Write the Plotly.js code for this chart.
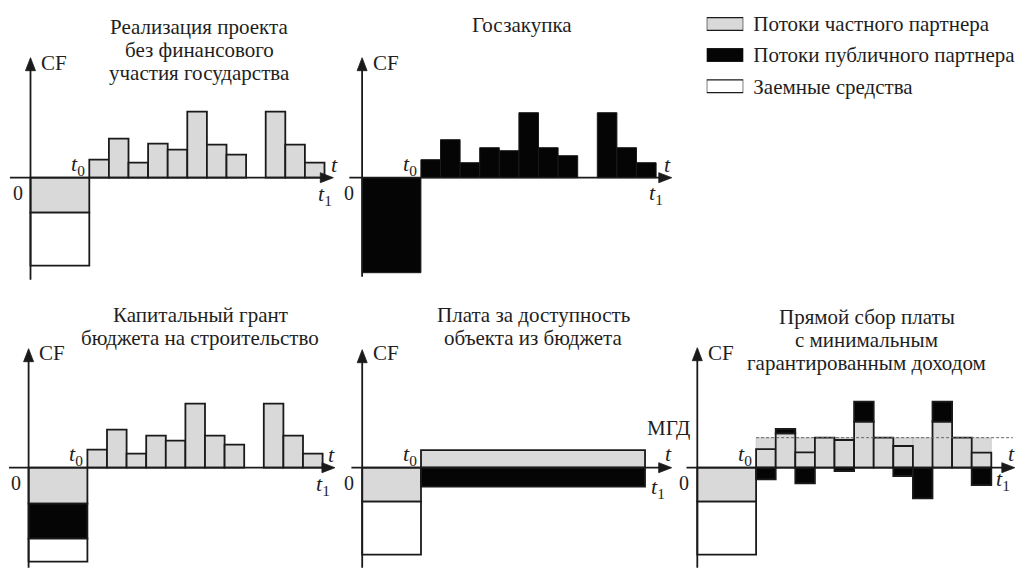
<!DOCTYPE html>
<html><head><meta charset="utf-8">
<script src="https://cdn.plot.ly/plotly-3.0.1.min.js"></script>
<style>html,body{margin:0;padding:0;background:#fff}#chart{width:1023px;height:572px}</style>
</head><body><div id="chart"></div>
<script>
// ---------- DATA ----------
const slots = [3.5,4.5,5.5,6.5,7.5,8.5,9.5,10.5,11.5,12.5,13.5,14.5];   // operating periods (t0..t1)
const constructionMid = 1.5;        // construction period 0..t0
const constructionLen = 3;
// Panel 1: project without state participation
const p1Private = [1.8,3.9,1.5,3.4,2.8,6.6,3.3,2.3,null,6.6,3.3,1.5];
const p1Equity = [-3.5];
const p1Loan = [-5.3];
// Panel 2: state procurement
const p2Public = [1.8,3.8,1.5,3.0,2.7,6.5,3.0,2.2,null,6.5,3.0,1.5];
const p2Invest = [-9.5];
// Panel 3: capital grant
const p4Private = [1.8,3.8,1.4,3.2,2.7,6.4,3.2,2.3,null,6.4,3.2,1.4];
const p4Equity = [-3.6];
const p4Grant = [-3.5];
const p4Loan = [-2.3];
// Panel 4: availability payment
const p5Start = 3, p5End = 14.43;
const p5Private = [1.75];
const p5Public = [-1.9];
const p5Equity = [-3.4];
const p5Loan = [-5.3];
// Panel 5: direct fee collection with minimum guaranteed revenue
const p6MGD = 3.0;
const p6Private = [1.85,3.44,1.53,3.0,2.77,4.6,3.0,2.17,null,4.6,3.0,1.5];
const p6PublicTop = [null,0.43,null,null,null,2.0,null,null,null,2.0,null,null];
const p6PublicBelow = [-1.16,null,-1.57,null,-0.33,null,null,-0.83,-3.07,null,null,-1.73];
const p6Equity = [-3.4];
const p6Loan = [-5.3];
// Legend
const legendLabels = ['Потоки частного партнера','Потоки публичного партнера','Заемные средства'];
const legendValues = [1,1,1];

// ---------- STYLE / LAYOUT ----------
const W = 1023, H = 572, U = 19.6, V = 10;
const XR = [-1.4, 16.6], YR = [-10.3, 12.7];
const GRAY = '#d9d9d9', BLACK = '#050505', WHITE = '#ffffff', LINE = '#1a1a1a';
const HEADC = LINE;
const FONT = "'Liberation Serif', 'Times New Roman', Times, serif";
const TXT = '#1e1e1e';
const HEAD_LEN = 13, HEAD_HALF = 5;   // arrowhead size in px

function xdom(ax){ return [(ax + XR[0]*U)/W, (ax + XR[1]*U)/W]; }
function ydom(z){ return [1 - (z - YR[0]*V)/H, 1 - (z - YR[1]*V)/H]; }

const panels = [
  {id:'',  ax:30.5,  zero:177.7, xs:-1.05, xe:15.45, yb:-10.2, yt:12.0, tX:15.5,  tY:1.3,  t1X:15.0,  t1Y:-1.75},
  {id:'2', ax:362.1, zero:177.7, xs:-0.65, xe:15.8,  yb:-9.9,  yt:12.0, tX:15.6,  tY:1.35, t1X:14.98, t1Y:-1.6},
  {id:'3', ax:28.6,  zero:467.7, xs:-1.0,  xe:15.63, yb:-10.0, yt:11.9, tX:15.46, tY:1.3,  t1X:15.0,  t1Y:-1.75},
  {id:'4', ax:362.2, zero:467.7, xs:-0.55, xe:15.79, yb:-10.0, yt:11.8, tX:15.62, tY:1.45, t1X:15.07, t1Y:-2.05},
  {id:'5', ax:697.3, zero:467.7, xs:-0.55, xe:16.2,  yb:-10.0, yt:12.0, tX:16.04, tY:1.45, t1X:15.6,  t1Y:-1.25}
];

function bar(p, x, y, base, width, fill, lw){
  return {type:'bar', x:x, y:y, base:base, width:width,
    xaxis:'x'+p.id, yaxis:'y'+p.id, showlegend:false, hoverinfo:'skip',
    marker:{color:fill, line:{color:LINE, width:(lw===undefined?1.8:lw)}}};
}
function axisLine(p, xs, ys){
  return {type:'scatter', mode:'lines', x:xs, y:ys, xaxis:'x'+p.id, yaxis:'y'+p.id,
    showlegend:false, hoverinfo:'skip', cliponaxis:false,
    line:{color:LINE, width:1.8}};
}
const zeros = slots.map(()=>0);
const ones = slots.map(()=>1);
const P = panels;
const traces = [];
// Panel 1
traces.push(bar(P[0], [constructionMid], p1Equity, [0], [constructionLen], GRAY));
traces.push(bar(P[0], [constructionMid], p1Loan, [p1Equity[0]], [constructionLen], WHITE));
traces.push(bar(P[0], slots, p1Private, zeros, ones, GRAY));
// Panel 2
traces.push(bar(P[1], [constructionMid], p2Invest, [0], [constructionLen], BLACK, 1));
traces.push(bar(P[1], slots, p2Public, zeros, ones, BLACK, 1));
// Panel 3
traces.push(bar(P[2], [constructionMid], p4Equity, [0], [constructionLen], GRAY));
traces.push(bar(P[2], [constructionMid], p4Grant, [p4Equity[0]], [constructionLen], BLACK));
traces.push(bar(P[2], [constructionMid], p4Loan, [p4Equity[0]+p4Grant[0]], [constructionLen], WHITE));
traces.push(bar(P[2], slots, p4Private, zeros, ones, GRAY));
// Panel 4
traces.push(bar(P[3], [constructionMid], p5Equity, [0], [constructionLen], GRAY));
traces.push(bar(P[3], [constructionMid], p5Loan, [p5Equity[0]], [constructionLen], WHITE));
traces.push(bar(P[3], [(p5Start+p5End)/2], p5Private, [0], [p5End-p5Start], GRAY));
traces.push(bar(P[3], [(p5Start+p5End)/2], p5Public, [0], [p5End-p5Start], BLACK));
// Panel 5
traces.push(bar(P[4], [constructionMid], p6Equity, [0], [constructionLen], GRAY));
traces.push(bar(P[4], [constructionMid], p6Loan, [p6Equity[0]], [constructionLen], WHITE));
traces.push(bar(P[4], slots, slots.map(()=>p6MGD), zeros, ones, GRAY, 0.6));
traces[traces.length-1].marker.line.color = '#bdbdbd';
traces.push(bar(P[4], slots, p6Private, zeros, ones, GRAY));
traces.push(bar(P[4], slots, p6PublicTop, p6Private.map(v=>v||0), ones, BLACK));
traces.push(bar(P[4], slots, p6PublicBelow, zeros, ones, BLACK));
traces.push({type:'scatter', mode:'lines', x:[3, 16.1], y:[p6MGD, p6MGD], xaxis:'x5', yaxis:'y5',
  showlegend:false, hoverinfo:'skip', line:{color:'#666', width:1, dash:'3px,2px'}});
// axes with arrowheads (heads as shapes in axis coordinates)
const hx = HEAD_LEN/U, hy = HEAD_HALF/V;       // x-axis head (data units)
const vy = HEAD_LEN/V, vx = HEAD_HALF/U;       // y-axis head (data units)
const shapes = [];
P.forEach(p=>{
  traces.push(axisLine(p, [p.xs, p.xe - hx*0.6], [0, 0]));
  traces.push(axisLine(p, [0, 0], [p.yb, p.yt - vy*0.6]));
  const xr = 'x'+p.id, yr = 'y'+p.id;
  shapes.push({type:'path', xref:xr, yref:yr, layer:'above', fillcolor:HEADC, line:{color:HEADC, width:0.8},
    path:`M ${p.xe} 0 L ${p.xe - hx} ${hy} L ${p.xe - hx} ${-hy} Z`});
  shapes.push({type:'path', xref:xr, yref:yr, layer:'above', fillcolor:HEADC, line:{color:HEADC, width:0.8},
    path:`M 0 ${p.yt} L ${-vx} ${p.yt - vy} L ${vx} ${p.yt - vy} Z`});
});
// Legend
traces.push({type:'bar', orientation:'h', y:legendLabels, x:legendValues, base:[0,0,0], width:0.41,
  xaxis:'x6', yaxis:'y6', showlegend:false, hoverinfo:'skip',
  marker:{color:[GRAY, BLACK, WHITE], line:{color:LINE, width:1.2}}});

const layout = {
  width:W, height:H, margin:{l:0,r:0,t:0,b:0}, paper_bgcolor:'#fff', plot_bgcolor:'rgba(0,0,0,0)',
  barmode:'overlay', showlegend:false, font:{family:FONT, color:TXT, size:21},
  annotations:[], shapes:shapes
};
P.forEach(p=>{
  layout['xaxis'+p.id] = {domain:xdom(p.ax), range:XR, visible:false, fixedrange:true, anchor:'y'+p.id};
  layout['yaxis'+p.id] = {domain:ydom(p.zero), range:YR, visible:false, fixedrange:true, anchor:'x'+p.id};
  const xr = 'x'+p.id, yr = 'y'+p.id;
  const lab = {xref:xr, yref:yr, showarrow:false};
  layout.annotations.push(Object.assign({}, lab, {text:'CF', x:0.45, y:11.45, xanchor:'left', yanchor:'middle', font:{family:FONT,size:21,color:TXT}}));
  layout.annotations.push(Object.assign({}, lab, {text:'0', x:-0.3, y:-1.5, xanchor:'right', yanchor:'middle', font:{family:FONT,size:20,color:TXT}}));
  layout.annotations.push(Object.assign({}, lab, {text:'<i>t</i><sub>0</sub>', x:2.9, y:1.3, xanchor:'right', yanchor:'middle', font:{family:FONT,size:22,color:TXT}}));
  layout.annotations.push(Object.assign({}, lab, {text:'<i>t</i>', x:p.tX, y:p.tY, xanchor:'center', yanchor:'middle', font:{family:FONT,size:22,color:TXT}}));
  layout.annotations.push(Object.assign({}, lab, {text:'<i>t</i><sub>1</sub>', x:p.t1X, y:p.t1Y, xanchor:'center', yanchor:'middle', font:{family:FONT,size:22,color:TXT}}));
});
layout.annotations.push({xref:'x5', yref:'y5', showarrow:false, text:'МГД', x:-0.28, y:3.95, xanchor:'right', yanchor:'middle', font:{family:FONT,size:21,color:TXT}});
layout.xaxis6 = {domain:[706.7/W, 743.3/W], range:[0,1], visible:false, fixedrange:true, anchor:'y6'};
layout.yaxis6 = {domain:[1-101.75/H, 1-8.45/H], type:'category', range:[2.5,-0.5], side:'right', anchor:'x6',
  showgrid:false, zeroline:false, showline:false, ticks:'', ticklabelstandoff:9, fixedrange:true,
  tickfont:{family:FONT, size:21, color:TXT}};

// titles (one annotation per line)
const titles = [
  {cx:199,   lines:['Реализация проекта','без финансового','участия государства'], y0:27},
  {cx:521.7, lines:['Госзакупка'], y0:25},
  {cx:200,   lines:['Капитальный грант','бюджета на строительство'], y0:315},
  {cx:533.3, lines:['Плата за доступность','объекта из бюджета'], y0:315},
  {cx:866.7, lines:['Прямой сбор платы','с минимальным','гарантированным доходом'], y0:316.7}
];
titles.forEach(t=>t.lines.forEach((s,i)=>{
  layout.annotations.push({xref:'paper', yref:'paper', showarrow:false, text:s, x:t.cx/W, y:1-(t.y0+i*23.2)/H,
    xanchor:'center', yanchor:'middle', font:{family:FONT, size:21, color:TXT}});
}));

Plotly.newPlot('chart', traces, layout, {staticPlot:true, displayModeBar:false});
</script></body></html>
